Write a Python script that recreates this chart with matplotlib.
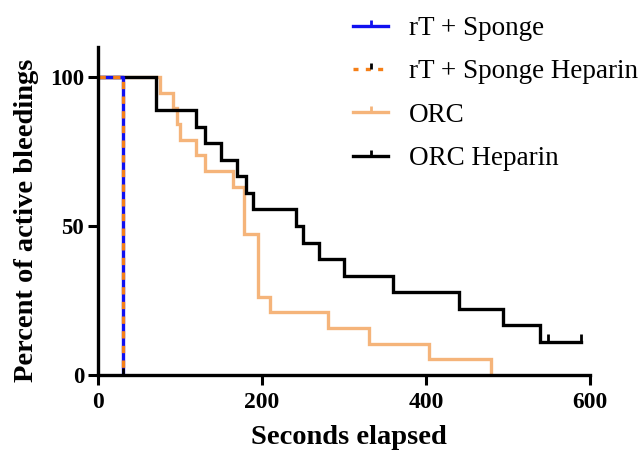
import matplotlib
matplotlib.use("Agg")
import matplotlib.pyplot as plt
from matplotlib.path import Path
from matplotlib.lines import Line2D

plt.rcParams['font.family'] = ['Liberation Serif', 'DejaVu Serif']

# Data (Kaplan-Meier step curves)
rt_times = [0, 30]
rt_surv = [100, 0]
rth_times = [0, 30]
rth_surv = [100, 0]

orc_times = [0, 76, 91, 96, 100, 120, 130, 165, 178, 195, 210, 280, 330, 404, 479]
orc_surv = [100, 94.7, 89.5, 84.2, 78.9, 73.7, 68.4, 63.2, 47.4, 26.3, 21.1, 15.8, 10.5, 5.3, 0]

orch_times = [0, 71, 120, 131, 150, 170, 180, 189, 241, 250, 270, 300, 360, 440, 494, 539, 589]
orch_surv = [100, 88.9, 83.3, 77.8, 72.2, 66.7, 61.1, 55.6, 50.0, 44.4, 38.9, 33.3, 27.8, 22.2, 16.7, 11.1, 11.1]
orch_censor_t = [549, 589]
orch_censor_s = [11.1, 11.1]

labels = ["rT + Sponge", "rT + Sponge Heparin", "ORC", "ORC Heparin"]
xticks = [0, 200, 400, 600]
yticks = [0, 50, 100]

c_blue = '#1010F0'
c_dorange = '#F57F17'
c_lorange = '#F5B47A'
c_black = '#000000'

tick_marker = Path([(0, 0), (0, 1)], [Path.MOVETO, Path.LINETO])

fig = plt.figure(figsize=(6.42, 4.5), dpi=100)
ax = fig.add_axes([98/642, 1-375/450, (590-98)/642, (375-47)/450])

lw = 2.4
ax.step(orc_times, orc_surv, where='post', color=c_lorange, lw=lw, solid_joinstyle='miter')
ax.step(orch_times, orch_surv, where='post', color=c_black, lw=lw, solid_joinstyle='miter')
ax.plot(orch_censor_t, orch_censor_s, ls='none', marker=tick_marker, ms=12, mew=2, color=c_black)
ax.step(rt_times, rt_surv, where='post', color=c_blue, lw=lw)
ax.step(rth_times, rth_surv, where='post', color=c_dorange, lw=lw, ls=(0, (2.2, 2.2)))
ax.plot([30], [0], ls='none', marker=tick_marker, ms=10, mew=2, color=c_black, clip_on=False)

ax.set_xlim(0, 600)
ax.set_ylim(0, 110)
ax.set_xticks(xticks)
ax.set_yticks(yticks)
ax.set_xticklabels([str(v) for v in xticks], fontsize=17, fontweight='bold')
ax.set_yticklabels([str(v) for v in yticks], fontsize=16.5, fontweight='bold')
ax.tick_params(width=2.2, length=7)
ax.tick_params(axis='x', pad=5)
ax.tick_params(axis='y', pad=3)
for s in ['top', 'right']:
    ax.spines[s].set_visible(False)
for s in ['left', 'bottom']:
    ax.spines[s].set_linewidth(2.4)
ax.set_xlabel("Seconds elapsed", fontsize=20.5, fontweight='bold')
ax.set_ylabel("Percent of active bleedings", fontsize=20.5, fontweight='bold')
ax.xaxis.set_label_coords((349-98)/492, -(448-375)/328, transform=None) if False else None
ax.xaxis.set_label_coords((349-98)/492, -(450-375)/328)
ax.xaxis.label.set_va('bottom')
ax.yaxis.set_label_coords(-(98-14)/492, (375-220)/328)
ax.yaxis.label.set_va('top')

handles = [
    Line2D([0], [0], color=c_blue, lw=2.4, marker=tick_marker, ms=9, mew=2, mec=c_blue),
    Line2D([0], [0], color=c_dorange, lw=2.4, ls=(0, (1.5, 2.2)), marker=tick_marker, ms=9, mew=2, mec=c_black),
    Line2D([0], [0], color=c_lorange, lw=2.4, marker=tick_marker, ms=9, mew=2, mec=c_lorange),
    Line2D([0], [0], color=c_black, lw=2.4, marker=tick_marker, ms=9, mew=2, mec=c_black),
]
fig.legend(handles, labels, loc='upper left', bbox_to_anchor=(353/642, 1-16/450),
           frameon=False, fontsize=19.5, handlelength=1.3, handletextpad=0.75,
           labelspacing=0.68, borderaxespad=0, borderpad=0)

fig.savefig("out.png", dpi=100)
